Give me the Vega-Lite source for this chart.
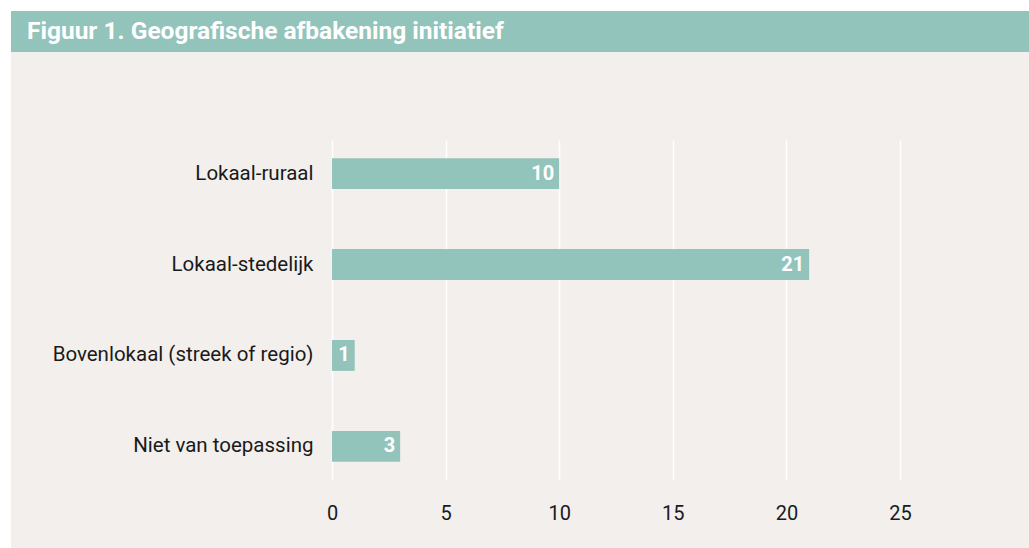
{
  "$schema": "https://vega.github.io/schema/vega-lite/v6.json",
  "background": "#ffffff",
  "padding": {"left": 11, "top": 11, "right": 0, "bottom": 0},
  "spacing": 0,
  "config": {
    "view": {"stroke": null},
    "font": "Roboto",
    "concat": {"spacing": 0}
  },
  "vconcat": [
    {
      "width": 1018,
      "height": 41,
      "view": {"fill": "#93c4bb", "stroke": null},
      "data": {"values": [{"titel": "Figuur 1. Geografische afbakening initiatief", "pos": 0}]},
      "mark": {"type": "text", "align": "left", "baseline": "middle", "dx": 16, "color": "#ffffff", "font": "Roboto", "fontWeight": "bold", "fontSize": 24.5},
      "encoding": {
        "x": {"field": "pos", "type": "quantitative", "scale": {"domain": [0, 1]}, "axis": null},
        "text": {"field": "titel", "type": "nominal"}
      }
    },
    {
      "width": 1018,
      "height": 496,
      "view": {"fill": "#f3efec", "stroke": null},
      "data": {"values": [
        {"categorie": "Lokaal-ruraal", "aantal": 10},
        {"categorie": "Lokaal-stedelijk", "aantal": 21},
        {"categorie": "Bovenlokaal (streek of regio)", "aantal": 1},
        {"categorie": "Niet van toepassing", "aantal": 3}
      ]},
      "encoding": {
        "y": {
          "field": "categorie", "type": "nominal", "sort": null, "title": null,
          "scale": {"range": [88, 428], "paddingInner": 0.66, "paddingOuter": 0.2},
          "axis": {"orient": "left", "offset": -321, "domain": false, "ticks": false, "tickSize": 0, "labelPadding": 19, "labelFontSize": 20.5, "labelFont": "Roboto", "labelColor": "#1a1a1a", "labelLimit": 500, "grid": false}
        },
        "x": {
          "field": "aantal", "type": "quantitative", "title": null,
          "scale": {"domain": [0, 25], "range": [321, 889], "nice": false, "zero": true},
          "axis": {"orient": "top", "values": [0, 5, 10, 15, 20, 25], "domain": false, "ticks": false, "tickSize": 0, "labelBaseline": "alphabetic", "labelPadding": -467, "labelFlush": false, "labelOverlap": false, "labelFontSize": 20, "labelFont": "Roboto", "labelColor": "#1a1a1a", "grid": true, "gridColor": "#ffffff", "gridWidth": 1.5, "gridOpacity": 1}
        }
      },
      "layer": [
        {"mark": {"type": "bar", "color": "#93c4bb"}},
        {
          "mark": {"type": "text", "align": "right", "baseline": "middle", "dx": -5, "color": "#ffffff", "font": "Roboto", "fontWeight": "bold", "fontSize": 20},
          "encoding": {"text": {"field": "aantal", "type": "quantitative"}}
        }
      ]
    }
  ]
}
